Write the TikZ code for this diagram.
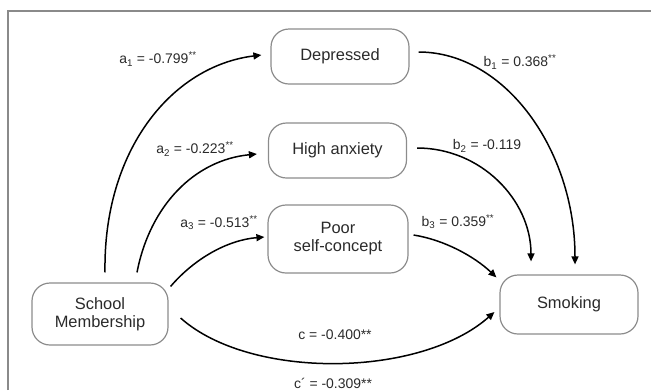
\documentclass[tikz,border=0pt]{standalone}
\usepackage{fontspec}
\setmainfont{Liberation Sans}
\usetikzlibrary{arrows.meta}
\definecolor{boxgray}{HTML}{8C8C8C}
\definecolor{framegray}{HTML}{8A8A8A}
\definecolor{textgray}{HTML}{2A2A2A}
\begin{document}
\begin{tikzpicture}[x=1bp,y=-1bp,
  box/.style={draw=boxgray, line width=1.2bp, rounded corners=18bp, minimum width=138bp,
    minimum height=55bp, align=center, font=\fontsize{16.5}{18}\selectfont, text=textgray, inner sep=0pt},
  arr/.style={line width=1.5bp, draw=black, -{Triangle[length=8bp,width=7bp]}},
  lbl/.style={font=\fontsize{14}{16}\selectfont, text=textgray, inner sep=0pt}]
\useasboundingbox (0,0) rectangle (651,390);
\draw[framegray, line width=1.3bp] (8,390) -- (8,11) -- (651,11);

\node[box] (dep) at (340,56.5) {Depressed};
\node[box] (anx) at (337.5,150.5) {High anxiety};
\node[box, minimum width=140bp, minimum height=68bp] (poor) at (338,239) {Poor\\self-concept};
\node[box, minimum width=136bp, minimum height=62bp] (school) at (100,314) {School\\Membership};
\node[box, minimum height=59bp] (smk) at (569,304.5) {Smoking};

\draw[arr] ([xshift=5bp,yshift=10bp]school.north) .. controls (103,150) and (172,66) .. ([xshift=-9bp,yshift=1.5bp]dep.west);
\draw[arr] ([xshift=37bp,yshift=10bp]school.north) .. controls (150,205) and (195,160) .. ([xshift=-11bp,yshift=-3.5bp]anx.west);
\draw[arr] ([xshift=2bp,yshift=-4bp]school.north east) .. controls (195,258) and (228,240) .. ([xshift=-3bp,yshift=2bp]poor.west);
\draw[arr] ([xshift=12bp,yshift=-4bp]school.east) .. controls (250,380) and (420,378) .. ([xshift=-5bp,yshift=-7.5bp]smk.west);
\draw[arr] ([xshift=9bp,yshift=4.5bp]dep.east) .. controls (505,52) and (575,150) .. ([xshift=6bp,yshift=10bp]smk.north);
\draw[arr] ([xshift=10bp,yshift=2.5bp]anx.east) .. controls (481,148) and (531,200) .. ([xshift=-38bp,yshift=13bp]smk.north);
\draw[arr] ([xshift=5bp,yshift=4bp]poor.east) .. controls (445,240) and (475,257) .. ([xshift=-3bp,yshift=-3bp]smk.north west);

\node[lbl] (la1) at (158,59) {a\textsubscript{1} = -0.799\textsuperscript{**}};
\node[lbl] (lb1) at (520,62) {b\textsubscript{1} = 0.368\textsuperscript{**}};
\node[lbl] (la2) at (195,149) {a\textsubscript{2} = -0.223\textsuperscript{**}};
\node[lbl] (lb2) at (487,146) {b\textsubscript{2} = -0.119};
\node[lbl] (la3) at (219,223) {a\textsubscript{3} = -0.513\textsuperscript{**}};
\node[lbl] (lb3) at (458,222) {b\textsubscript{3} = 0.359\textsuperscript{**}};
\node[lbl] (lc) at (335,335) {c = -0.400**};
\node[lbl] (lcp) at (333,383) {c´ = -0.309**};
\end{tikzpicture}
\end{document}
